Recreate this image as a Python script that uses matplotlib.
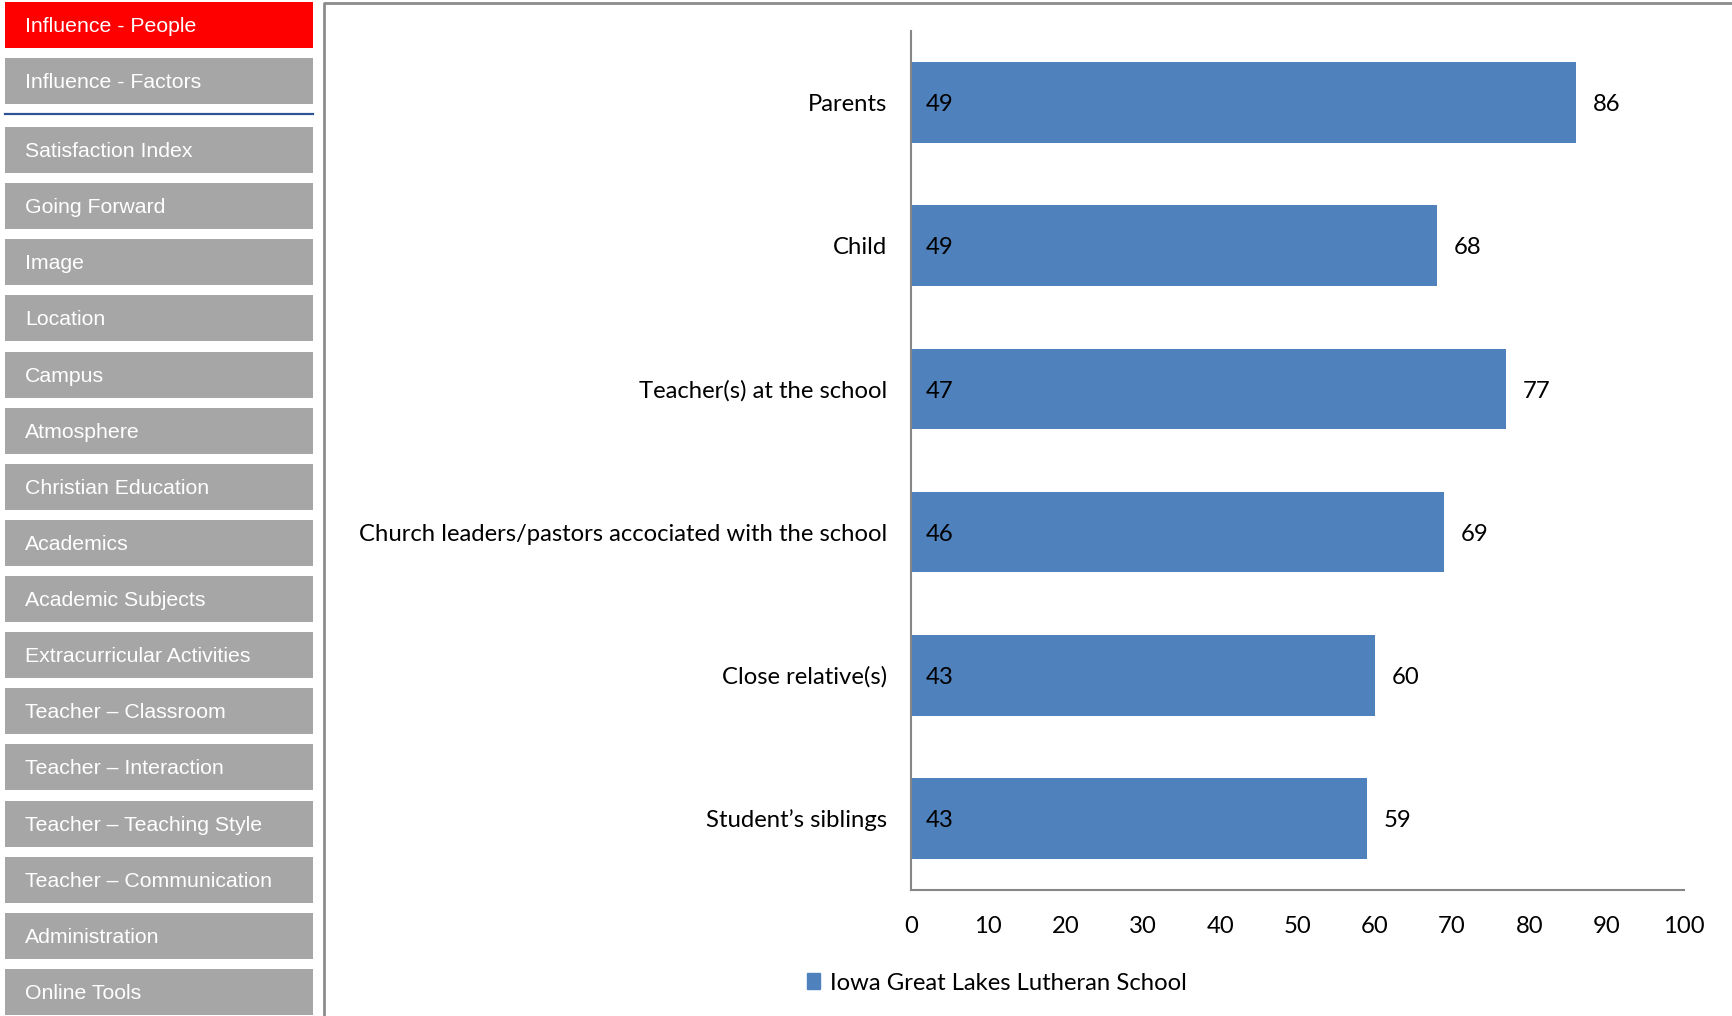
import matplotlib.pyplot as plt
from matplotlib.patches import Rectangle

# chart data
categories = ['Parents', 'Child', 'Teacher(s) at the school',
              'Church leaders/pastors accociated with the school',
              'Close relative(s)', 'Student\u2019s siblings']
values = [86, 68, 77, 69, 60, 59]
inner_values = [49, 49, 47, 46, 43, 43]
series_name = 'Iowa Great Lakes Lutheran School'
x_ticks = [0, 10, 20, 30, 40, 50, 60, 70, 80, 90, 100]

# sidebar menu
menu_top = ['Influence - People', 'Influence - Factors']
menu_items = ['Satisfaction Index', 'Going Forward', 'Image', 'Location', 'Campus',
              'Atmosphere', 'Christian Education', 'Academics', 'Academic Subjects',
              'Extracurricular Activities', 'Teacher \u2013 Classroom',
              'Teacher \u2013 Interaction', 'Teacher \u2013 Teaching Style',
              'Teacher \u2013 Communication', 'Administration', 'Online Tools']
active_item = 'Influence - People'

W, H = 1732, 1016
bar_color = '#4f81bd'
chart_font = 'Lato'
menu_font = 'Liberation Sans'
fs = 17.2

fig = plt.figure(figsize=(W / 100, H / 100), dpi=100)

# background layer in pixel coords for the menu and panel frame
bg = fig.add_axes([0, 0, 1, 1])
bg.set_xlim(0, W)
bg.set_ylim(H, 0)
bg.axis('off')


def button(y0, label):
    col = '#ff0000' if label == active_item else '#a6a6a6'
    bg.add_patch(Rectangle((5, y0), 308, 46, color=col, lw=0))
    bg.text(25, y0 + 24.5, label, color='white', fontsize=15.3, family=menu_font, va='center')


for i, name in enumerate(menu_top):
    button(2 + i * 56, name)
bg.plot([5, 313], [114, 114], color='#2f5496', lw=1.6)
for i, name in enumerate(menu_items):
    button(127 + i * 56.13, name)

bg.plot([324, 324, W], [H, 3, 3], color='#8c8c8c', lw=2)

# bar chart
ax = fig.add_axes([911 / W, 1 - 890 / H, (1684 - 911) / W, (890 - 31) / H])
ypos = list(range(len(categories)))
ax.barh(ypos, values, height=0.563, color=bar_color)
ax.set_xlim(0, 100)
ax.set_ylim(len(categories) - 0.5, -0.5)

for s in ['top', 'right']:
    ax.spines[s].set_visible(False)
for s in ['left', 'bottom']:
    ax.spines[s].set_color('#868686')
    ax.spines[s].set_linewidth(1.5)

ax.set_yticks(ypos)
ax.set_yticklabels(categories, family=chart_font, fontsize=fs)
ax.set_xticks(x_ticks)
ax.set_xticklabels([str(t) for t in x_ticks], family=chart_font, fontsize=fs)
ax.tick_params(axis='y', length=0, pad=17)
ax.tick_params(axis='x', length=0, pad=19)

for i, (v, n) in enumerate(zip(values, inner_values)):
    ax.annotate(str(v), (v, i), xytext=(12, -1.5), textcoords='offset points',
                va='center', fontsize=fs, family=chart_font)
    ax.annotate(str(n), (0, i), xytext=(10.5, -1.5), textcoords='offset points',
                va='center', fontsize=fs, family=chart_font)

handle = Rectangle((0, 0), 1, 1, color=bar_color)
fig.legend([handle], [series_name], loc='center', bbox_to_anchor=(997 / W, 1 - 983 / H),
           frameon=False, handlelength=0.55, handleheight=0.6, handletextpad=0.4,
           prop={'family': chart_font, 'size': fs})

fig.savefig('out.png', dpi=100)
